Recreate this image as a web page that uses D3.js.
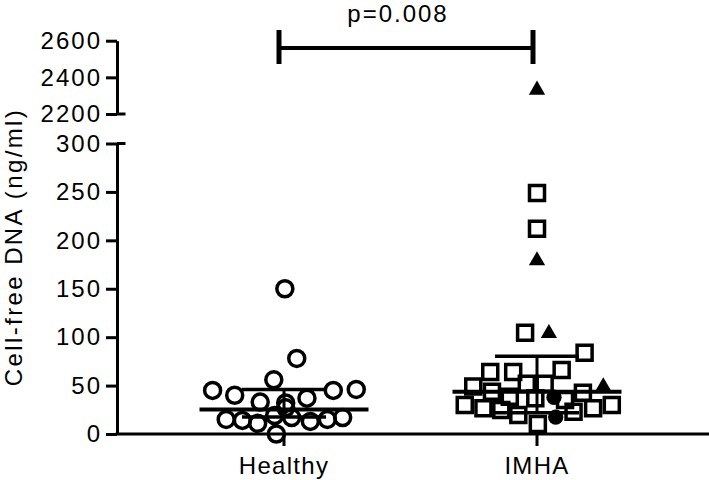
<!DOCTYPE html>
<html><head><meta charset="utf-8">
<script src="https://cdn.jsdelivr.net/npm/d3@7"></script>
<style>html,body{margin:0;padding:0;background:#fff;}svg{display:block;font-family:"Liberation Sans",Arial,sans-serif;}</style>
</head><body><svg id="c" width="709" height="480"></svg>
<script>
const categories = ["Healthy", "IMHA"];
const yTicksLower = [0, 50, 100, 150, 200, 250, 300];
const yTicksUpper = [2200, 2400, 2600];
const pLabel = "p=0.008";
const yTitle = "Cell-free DNA (ng/ml)";

// Healthy group: values and horizontal scatter (fraction of half-width)
const healthyValues = [150, 78, 56, 45, 40, 45, 46, 33, 32, 37, 27, 15, 14, 11, 19, 17, 13, 15, 17, 0];
const healthyJitter = [0.01, 0.15, -0.12, -0.84, -0.58, 0.58, 0.85, -0.28, 0.02, 0.27, 0.02, -0.68, -0.49, -0.31, -0.11, 0.09, 0.31, 0.51, 0.69, -0.09];

// IMHA group: values, scatter, subgroup (A = open square, B = filled triangle, C = filled circle)
const imhaValues = [2331, 249, 212, 179, 104.5, 104, 84, 64, 64, 66, 49, 52, 52, 43.6, 38.5, 37, 38, 42.6, 49, 35, 30, 26.5, 24.7, 19.6, 10.3, 17.5, 23, 26.5, 30];
const imhaJitter = [0, 0, 0, 0, -0.14, 0.14, 0.56, -0.55, -0.28, 0.29, -0.75, -0.12, 0.09, -0.53, -0.32, -0.02, 0.2, 0.54, 0.78, 0.33, -0.85, -0.63, -0.42, -0.22, 0.01, 0.22, 0.43, 0.66, 0.88];
const imhaGroup = ["B","A","A","B","A","B","A","A","A","A","A","A","A","A","A","A","C","A","B","A","A","A","A","A","A","C","A","A","A"];

// Centre line and upper/lower bars
const centerValues = [25.4, 43.6];
const upperValues = [46, 80.4];
const lowerValues = [17.5, 22];

const svg = d3.select("#c");
const axisX0 = 117, axisX1 = 709;
const yLow = d3.scaleLinear().domain([0, 300]).range([434, 143.5]);
const yHigh = d3.scaleLinear().domain([2200, 2600]).range([114, 40.7]);
const yv = v => v > 300 ? yHigh(v) : yLow(v);
const x = d3.scalePoint().domain(categories).range([284, 537]);
const jit = d3.scaleLinear().domain([-1, 1]).range([-85, 85]);

const fontSize = 24;

// Points
const gP = svg.append("g");
const hData = healthyValues.map((v, i) => ({v, j: healthyJitter[i]}));
gP.selectAll("circle.h").data(hData).enter().append("circle")
  .attr("cx", d => x("Healthy") + jit(d.j)).attr("cy", d => yv(d.v)).attr("r", 8)
  .attr("fill", "none").attr("stroke", "#000").attr("stroke-width", 3.5);

const iData = imhaValues.map((v, i) => ({v, j: imhaJitter[i], g: imhaGroup[i]}));
const sq = d3.symbol().type(d3.symbolSquare).size(225);
const tri = d3.symbol().type(d3.symbolTriangle).size(115);
const cir = d3.symbol().type(d3.symbolCircle).size(185);
gP.selectAll("path.i").data(iData).enter().append("path")
  .attr("transform", d => `translate(${x("IMHA") + jit(d.j)},${yv(d.v)})`)
  .attr("d", d => d.g === "A" ? sq() : d.g === "B" ? tri() : cir())
  .attr("fill", d => d.g === "A" ? "none" : "#000")
  .attr("stroke", d => d.g === "A" ? "#000" : "none")
  .attr("stroke-width", 3.5);

// Centre lines and bars
const gL = svg.append("g").attr("stroke", "#000");
categories.forEach((c, i) => {
  const cx = x(c);
  gL.append("line").attr("x1", cx - 84.5).attr("x2", cx + 84.5).attr("y1", yLow(centerValues[i])).attr("y2", yLow(centerValues[i])).attr("stroke-width", 4);
  gL.append("line").attr("x1", cx).attr("x2", cx).attr("y1", yLow(upperValues[i])).attr("y2", yLow(lowerValues[i])).attr("stroke-width", 3);
  gL.append("line").attr("x1", cx - 42).attr("x2", cx + 42).attr("y1", yLow(upperValues[i])).attr("y2", yLow(upperValues[i])).attr("stroke-width", 3.5);
  gL.append("line").attr("x1", cx - 42).attr("x2", cx + 42).attr("y1", yLow(lowerValues[i])).attr("y2", yLow(lowerValues[i])).attr("stroke-width", 3.5);
});

// Y axes
function styleAxis(g) {
  g.selectAll("path,line").attr("stroke", "#000").attr("stroke-width", 3);
  g.selectAll("text").attr("font-size", fontSize).attr("fill", "#000")
   .attr("font-family", "'Liberation Sans', Arial, sans-serif").style("letter-spacing", "2px").attr("dx", "2px");
}
const gyL = svg.append("g").attr("transform", `translate(${axisX0},0)`)
  .call(d3.axisLeft(yLow).tickValues(yTicksLower).tickFormat(d3.format("d")).tickSize(11).tickSizeOuter(0).tickPadding(6));
styleAxis(gyL);
const gyH = svg.append("g").attr("transform", `translate(${axisX0},0)`)
  .call(d3.axisLeft(yHigh).tickValues(yTicksUpper).tickFormat(d3.format("d")).tickSize(11).tickSizeOuter(0).tickPadding(6));
styleAxis(gyH);
// break caps
[yLow(300), yHigh(2200)].forEach(yy => {
  svg.append("line").attr("x1", axisX0).attr("x2", axisX0 + 8.5).attr("y1", yy).attr("y2", yy).attr("stroke", "#000").attr("stroke-width", 3);
});

// X axis
const gx = svg.append("g").attr("transform", `translate(0,${yLow(0)})`);
gx.append("line").attr("x1", axisX0 - 1.5).attr("x2", axisX1).attr("stroke", "#000").attr("stroke-width", 3);
categories.forEach(c => {
  gx.append("line").attr("x1", x(c)).attr("x2", x(c)).attr("y1", 0).attr("y2", 12).attr("stroke", "#000").attr("stroke-width", 3);
  gx.append("text").attr("x", x(c)).attr("y", 40).attr("text-anchor", "middle")
    .attr("font-size", fontSize).style("letter-spacing", "1.3px").text(c);
});

// Y title
svg.append("text").attr("transform", "translate(22,247) rotate(-90)").attr("text-anchor", "middle")
  .attr("font-size", fontSize).style("letter-spacing", "2.4px").text(yTitle);

// Significance bracket
const bx0 = x("Healthy") - 5, bx1 = x("IMHA") - 4, by = 48;
const gb = svg.append("g").attr("stroke", "#000");
gb.append("line").attr("x1", bx0).attr("x2", bx1).attr("y1", by).attr("y2", by).attr("stroke-width", 4);
gb.append("line").attr("x1", bx0).attr("x2", bx0).attr("y1", 30).attr("y2", 64).attr("stroke-width", 5);
gb.append("line").attr("x1", bx1).attr("x2", bx1).attr("y1", 30).attr("y2", 64).attr("stroke-width", 5);
svg.append("text").attr("x", 398).attr("y", 21.5).attr("text-anchor", "middle")
  .attr("font-size", fontSize).style("letter-spacing", "2px").text(pLabel);
</script></body></html>
